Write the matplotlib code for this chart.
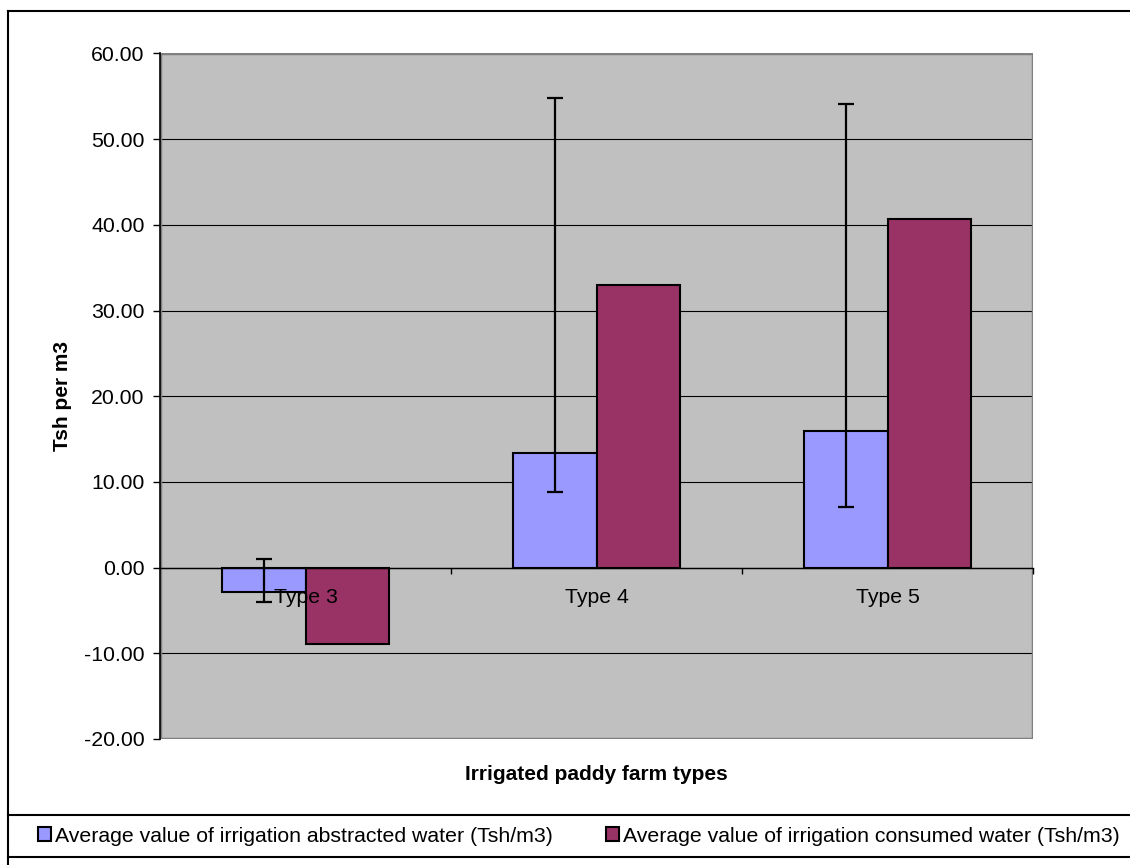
import numpy as np
import matplotlib.pyplot as plt
from matplotlib.lines import Line2D
from matplotlib.patches import Rectangle

plt.rcParams['font.family'] = ['Liberation Sans', 'DejaVu Sans']

categories = ["Type 3", "Type 4", "Type 5"]
abstracted = [-2.88, 13.38, 15.99]
consumed = [-8.95, 32.94, 40.64]
# error bar ends (lower, upper) for the abstracted series
err_low = [-4.00, 8.83, 7.08]
err_high = [1.05, 54.80, 54.10]

label_abs = "Average value of irrigation abstracted water (Tsh/m3)"
label_con = "Average value of irrigation consumed water (Tsh/m3)"

fig = plt.figure(figsize=(11.3, 8.65), dpi=100)
ax = fig.add_axes([0.1416, 0.1457, 0.7726, 0.7925])

x = np.arange(len(categories))
w = 1 / 3.5

ax.set_facecolor('#c0c0c0')
ax.set_axisbelow(True)
ax.yaxis.grid(True, color='black', linewidth=0.8)

b1 = ax.bar(x - w / 2, abstracted, w, color='#9999ff', edgecolor='black',
            linewidth=1.5, label=label_abs, zorder=2)
b2 = ax.bar(x + w / 2, consumed, w, color='#993366', edgecolor='black',
            linewidth=1.5, label=label_con, zorder=2)

abs_arr = np.array(abstracted)
yerr = [abs_arr - np.array(err_low), np.array(err_high) - abs_arr]
ax.errorbar(x - w / 2, abs_arr, yerr=yerr, fmt='none', ecolor='black',
            elinewidth=1.6, capsize=5.5, capthick=1.6, zorder=3)

ax.set_xlim(-0.5, 2.5)
ax.set_ylim(-20, 60)
ax.set_yticks(np.arange(-20, 61, 10))
ax.set_yticklabels([f"{v:.2f}" for v in np.arange(-20, 61, 10)], fontsize=15.3)
ax.tick_params(axis='y', direction='out', length=5, width=1, pad=6)

ax.spines['bottom'].set_position(('data', 0))
ax.spines['bottom'].set_linewidth(1)
ax.spines['left'].set_linewidth(1.2)
ax.spines['top'].set_visible(False)
ax.spines['right'].set_visible(False)
ax.add_patch(Rectangle((0, 0), 1, 1, transform=ax.transAxes, fill=False,
                       edgecolor='#808080', linewidth=2.5, zorder=1))

ax.set_xticks(x)
ax.set_xticklabels(categories, fontsize=15.3)
ax.set_xticks([0.5, 1.5, 2.5], minor=True)
ax.tick_params(axis='x', which='major', length=0, pad=15)
ax.tick_params(axis='x', which='minor', direction='out', length=4, width=1)
# category labels sit on top of the bars, as in the original
ax.xaxis.set_zorder(4)

ax.set_ylabel("Tsh per m3", fontsize=15, fontweight='bold')
ax.yaxis.set_label_coords(-0.101, 0.5)
fig.text(596 / 1130, 1 - 775 / 865, "Irrigated paddy farm types", fontsize=15,
         fontweight='bold', ha='center', va='center')

fig.legend(handles=[b1, b2], loc='center left', bbox_to_anchor=(38 / 1130, 1 - 836 / 865),
           ncol=2, frameon=False, fontsize=15.3, handlelength=0.6, handleheight=0.6,
           handletextpad=0.2, columnspacing=2.5, borderpad=0, borderaxespad=0)

# chart frame and legend box
for (x0, y0, x1, y1) in [(8, 11, 1130, 11), (8, 11, 8, 865),
                         (8, 815, 1130, 815), (8, 857, 1130, 857)]:
    fig.add_artist(Line2D([x0 / 1130, x1 / 1130], [1 - y0 / 865, 1 - y1 / 865],
                          transform=fig.transFigure, color='black', linewidth=1.5))

fig.savefig('out.png', dpi=100)
